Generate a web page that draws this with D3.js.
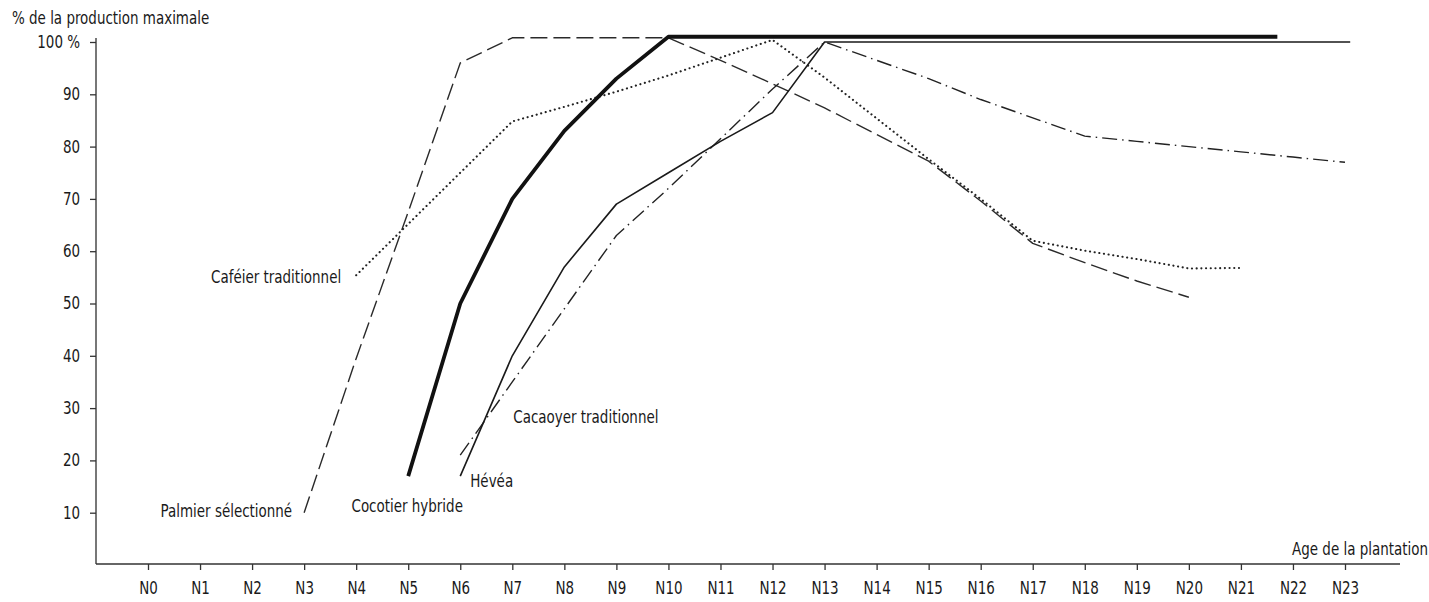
<!DOCTYPE html>
<html>
<head>
<meta charset="utf-8">
<script src="https://cdn.jsdelivr.net/npm/d3@7"></script>
<style>
  html, body { margin: 0; padding: 0; background: #fff; }
  svg { display: block; }
  text { font-family: "Liberation Sans Narrow", "DejaVu Sans Condensed", "Liberation Sans", sans-serif; fill: #1a1a1a; }
  /* narrow lettering: squeeze glyphs horizontally around their anchor */
  text.narrow { transform-box: fill-box; transform: scaleX(0.88); }
  text.narrow.a-start { transform-origin: left center; }
  text.narrow.a-middle { transform-origin: center center; }
  text.narrow.a-end { transform-origin: right center; }
</style>
</head>
<body>
<svg id="chart" width="1429" height="602"></svg>
<script>
// Age of the plantation (years after planting) and axis labels
const ages = d3.range(0, 24);
const ageLabels = ages.map(a => "N" + a);
const yTicks = [10, 20, 30, 40, 50, 60, 70, 80, 90, 100];

// Production as a % of the maximum, per crop
const palmierAges   = [3, 4, 5, 6, 7, 8, 9, 10, 11, 12, 13, 14, 15, 16, 17, 18, 19, 20];
const palmierValues = [10, 39.5, 67.5, 96, 100.8, 100.8, 100.8, 100.8, 96.5, 92, 87.4, 82.3, 77.2, 69.6, 61.5, 57.8, 54.3, 51.2];

const cafeierAges   = [4, 5, 6, 7, 8, 9, 10, 11, 12, 13, 14, 15, 16, 17, 18, 19, 20, 21];
const cafeierValues = [55.4, 65.2, 75, 84.8, 87.6, 90.5, 93.6, 97, 100.4, 93.2, 85.4, 77.6, 70, 62, 60.1, 58.5, 56.7, 56.8];

const cocotierAges   = [5, 6, 7, 8, 9, 10, 21.7];
const cocotierValues = [17, 50, 70, 83, 93, 101, 101];

const heveaAges   = [6, 7, 8, 9, 10, 11, 12, 13, 23.1];
const heveaValues = [17, 40, 57, 69, 75, 81, 86.5, 100, 100];

const cacaoAges   = [6, 7, 8, 9, 10, 11, 12, 13, 14, 15, 16, 17, 18, 19, 20, 21, 22, 23];
const cacaoValues = [21, 35, 49, 63, 72, 81.5, 91, 100, 96.5, 93, 89, 85.5, 82, 81, 80, 79, 78, 77];

const svg = d3.select("#chart");

const axisX = 96, axisY = 564, axisRight = 1400, axisTop = 38;
const x = d3.scaleLinear().domain([0, 23]).range([148, 1345]);
const y = d3.scaleLinear().domain([0, 100]).range([565, 42]);

// Axes
svg.append("line")
  .attr("x1", axisX).attr("x2", axisX)
  .attr("y1", axisY).attr("y2", axisTop)
  .attr("stroke", "#555").attr("stroke-width", 1.6);
svg.append("line")
  .attr("x1", axisX).attr("x2", axisRight)
  .attr("y1", axisY).attr("y2", axisY)
  .attr("stroke", "#333").attr("stroke-width", 1.4);

const yAxis = svg.append("g")
  .attr("transform", `translate(${axisX},0)`)
  .call(d3.axisLeft(y).tickValues(yTicks).tickSize(6).tickPadding(10)
    .tickFormat(d => d === 100 ? "100 %" : d));
yAxis.select(".domain").remove();
yAxis.selectAll(".tick line").attr("stroke", "#333").attr("stroke-width", 1.3);
yAxis.selectAll(".tick text").attr("font-size", 17).attr("fill", "#1a1a1a")
  .attr("font-family", null).attr("class", "narrow a-end");

const xAxis = svg.append("g")
  .attr("transform", `translate(0,${axisY})`)
  .call(d3.axisBottom(x).tickValues(ages).tickSize(6).tickPadding(12)
    .tickFormat(d => ageLabels[d]));
xAxis.select(".domain").remove();
xAxis.selectAll(".tick line").attr("stroke", "#333").attr("stroke-width", 1.3);
xAxis.selectAll(".tick text").attr("font-size", 17).attr("fill", "#1a1a1a")
  .attr("font-family", null).attr("class", "narrow a-middle");

// Axis titles
svg.append("text")
  .attr("class", "narrow a-start")
  .attr("x", 12).attr("y", 24)
  .attr("font-size", 17)
  .text("% de la production maximale");
svg.append("text")
  .attr("class", "narrow a-end")
  .attr("x", 1428).attr("y", 555)
  .attr("text-anchor", "end")
  .attr("font-size", 17)
  .text("Age de la plantation");

// Curves
const line = d3.line().x(d => x(d[0])).y(d => y(d[1]));
const series = [
  { ages: palmierAges,  values: palmierValues,  width: 1.4, dash: "17,6",          color: "#2a2a2a", cap: "butt" },
  { ages: cafeierAges,  values: cafeierValues,  width: 2.1, dash: "0.1,4.6",       color: "#222",    cap: "round" },
  { ages: cacaoAges,    values: cacaoValues,    width: 1.4, dash: "15,5,1.5,5",    color: "#222",    cap: "butt" },
  { ages: heveaAges,    values: heveaValues,    width: 1.6, dash: null,            color: "#1a1a1a", cap: "butt" },
  { ages: cocotierAges, values: cocotierValues, width: 3.8, dash: null,            color: "#111",    cap: "butt" }
];
series.forEach(s => {
  svg.append("path")
    .datum(s.ages.map((a, i) => [a, s.values[i]]))
    .attr("d", line)
    .attr("fill", "none")
    .attr("stroke", s.color)
    .attr("stroke-width", s.width)
    .attr("stroke-linecap", s.cap)
    .attr("stroke-linejoin", "round")
    .attr("stroke-dasharray", s.dash);
});

// Crop labels next to the start of each curve
const labels = [
  { text: "Palmier sélectionné",  x: x(palmierAges[0]) - 12,  y: y(palmierValues[0]) - 2,  anchor: "end" },
  { text: "Caféier traditionnel", x: x(cafeierAges[0]) - 15,  y: y(cafeierValues[0]) + 2,  anchor: "end" },
  { text: "Cocotier hybride",     x: x(cocotierAges[0]) - 1,  y: y(cocotierValues[0]) + 30, anchor: "middle" },
  { text: "Hévéa",                x: x(heveaAges[0]) + 10,    y: y(heveaValues[0]) + 5,    anchor: "start" },
  { text: "Cacaoyer traditionnel", x: x(7) + 1,               y: y(cacaoValues[0]) - 38,   anchor: "start" }
];
svg.append("g").selectAll("text")
  .data(labels)
  .join("text")
  .attr("class", d => "narrow a-" + d.anchor)
  .attr("x", d => d.x)
  .attr("y", d => d.y)
  .attr("dy", "0.35em")
  .attr("text-anchor", d => d.anchor)
  .attr("font-size", 17)
  .text(d => d.text);
</script>
</body>
</html>
